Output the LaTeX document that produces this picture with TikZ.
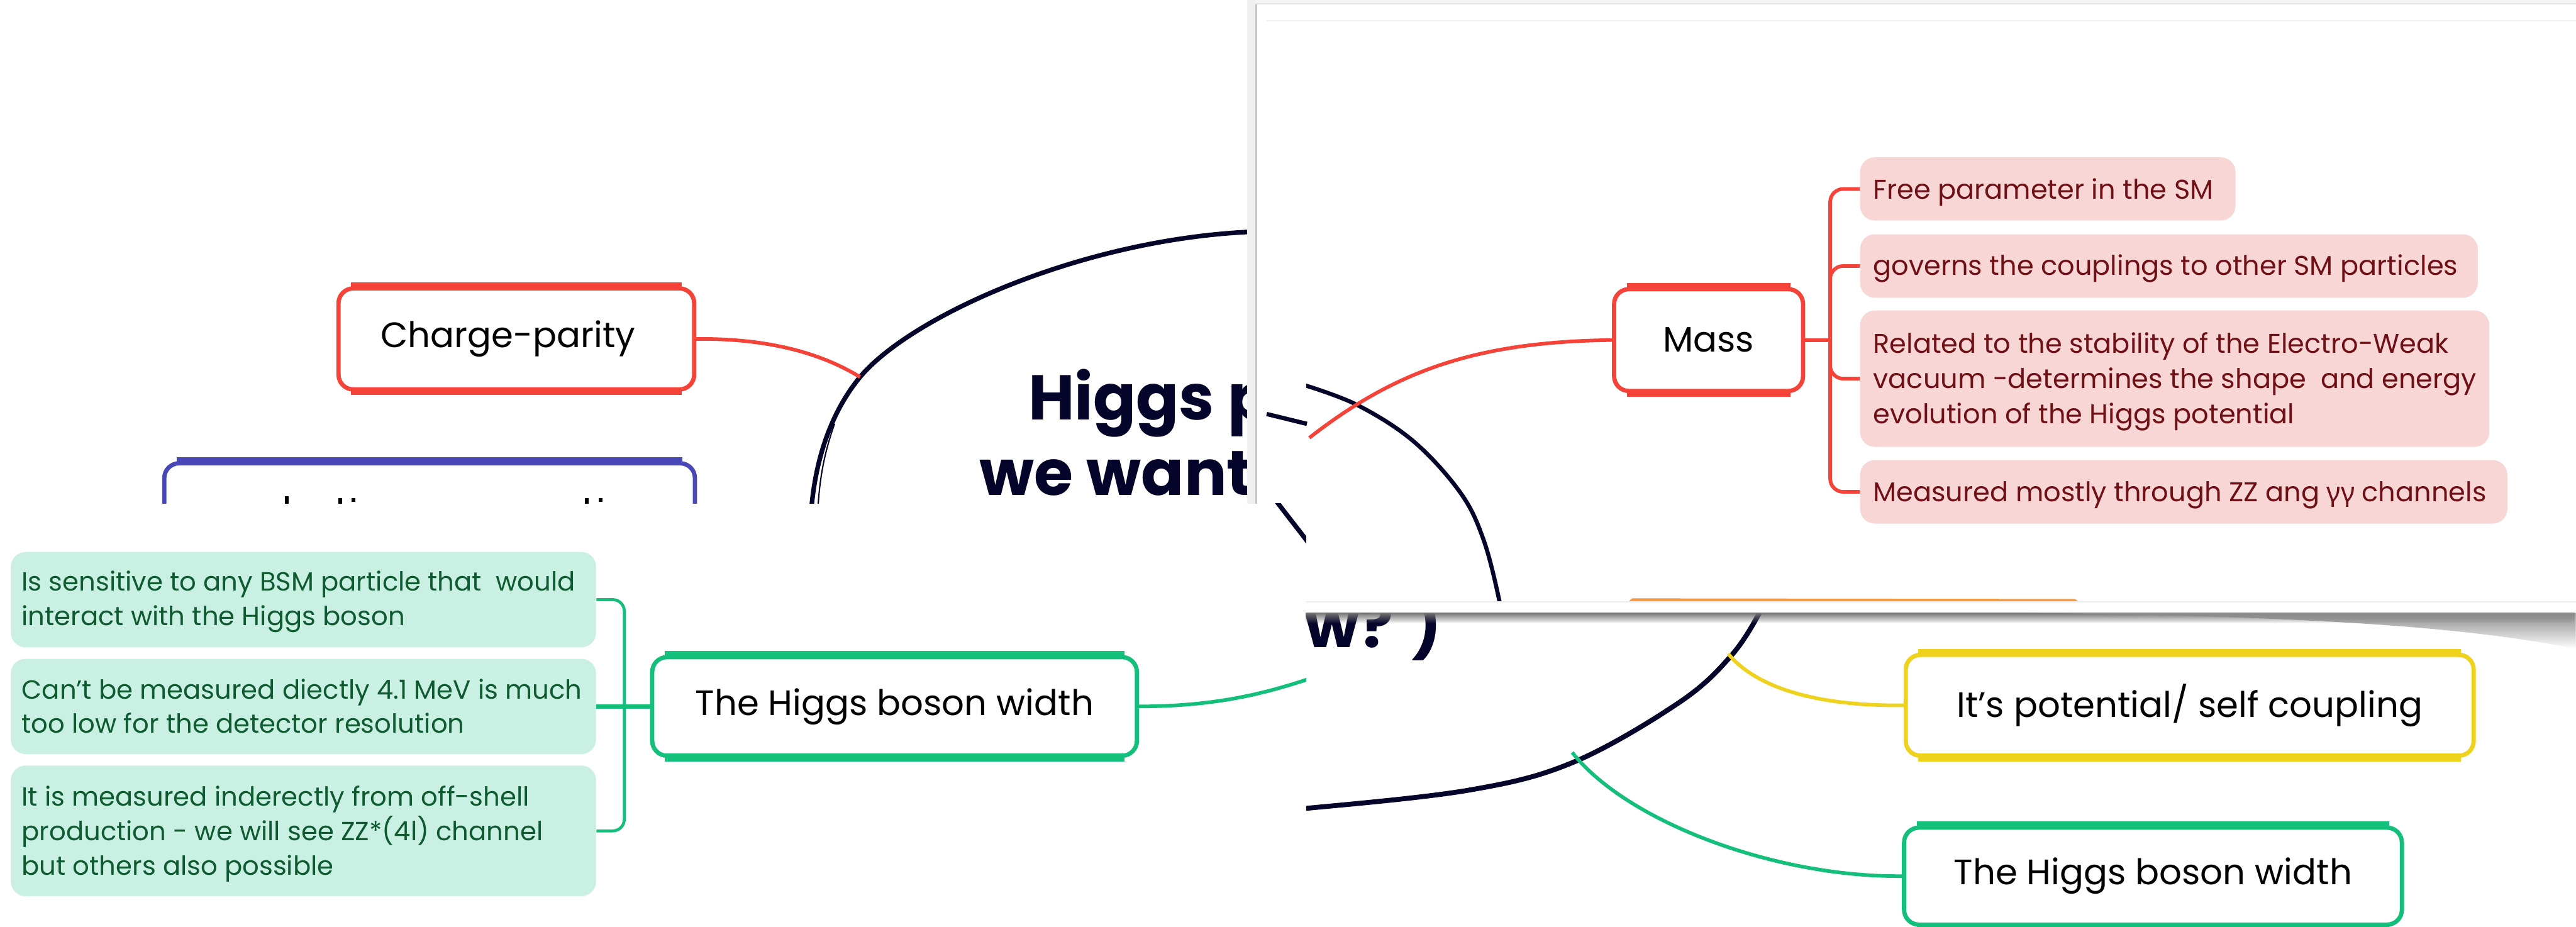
\documentclass[tikz,border=0pt]{standalone}
\usepackage{fontspec}
\setmainfont{Poppins}
\newfontfamily\grkfont{Noto Sans}
\usetikzlibrary{fadings}
\definecolor{navy}{HTML}{05052B}
\definecolor{cred}{HTML}{F5433A}
\definecolor{pinkfill}{HTML}{F9D6D6}
\definecolor{pinktext}{HTML}{6E1016}
\definecolor{cgreen}{HTML}{14BF7C}
\definecolor{mintfill}{HTML}{C9F0E3}
\definecolor{minttext}{HTML}{0F5A31}
\definecolor{cyellow}{HTML}{EFD21E}
\definecolor{corange}{HTML}{F29B45}
\definecolor{cblue}{HTML}{4A48B8}
\tikzfading[name=shadowfade, top color=transparent!0, bottom color=transparent!100]
\tikzset{
  topic/.style={draw, line width=2.6pt, rounded corners=9pt, fill=white, inner sep=0pt, text=black, font=\fontsize{21.5}{26}\selectfont},
  pinkbox/.style={fill=pinkfill, rounded corners=9pt, inner sep=0pt, anchor=west},
  mintbox/.style={fill=mintfill, rounded corners=9pt, inner sep=0pt, anchor=west},
  ptext/.style={text=pinktext, font=\fontsize{16.5}{21.5}\selectfont, align=left, anchor=base west, inner sep=0pt},
  mtext/.style={text=minttext, font=\fontsize{16}{20.9}\selectfont, align=left, anchor=base west, inner sep=0pt},
  link/.style={line width=2.2pt},
  navyline/.style={navy, line width=2.8pt},
  title/.style={text=navy, font=\fontsize{38.5}{46}\selectfont\bfseries, inner sep=0pt, anchor=base west},
}
\newcommand{\myedges}[2]{%
  \draw[#2, line width=4.8pt] ([xshift=9pt]#1.north west) -- ([xshift=-9pt]#1.north east);
  \draw[#2, line width=4.2pt] ([xshift=9pt]#1.south west) -- ([xshift=-9pt]#1.south east);}
\begin{document}
\begin{tikzpicture}[x=1pt,y=-1pt]
\useasboundingbox (0,0) rectangle (1568,564);
\clip (0,0) rectangle (1568,564);
\fill[white] (0,0) rectangle (1568,564);

% ---------- layer A (base) ----------
\node[topic, draw=cred, minimum width=216.5pt, minimum height=61.5pt] (cp) at (314.3,206.3) {Charge-parity\hspace*{10pt}};
\myedges{cp}{cred}
\node[topic, draw=cblue, minimum width=323pt, minimum height=70pt] (bl) at (261.5,317) {};
\myedges{bl}{cblue}
\fill[black] (173.5,302) rectangle (175.6,307);
\fill[black] (206,303) rectangle (208.2,307);
\fill[black] (214,303) rectangle (216.2,305.6);
\fill[black] (356,303) rectangle (358.2,307);
\fill[black] (364.5,303) rectangle (366.7,305.6);
\coordinate (ellA) at (523.5,229.5);
\draw[navyline] (492,345) -- (493,330) .. controls (493,285) and (505,252) .. (523.5,229.5)
   .. controls (555,192) and (660,145) .. (764,141) -- (820,139);
\draw[navy, line width=0.8pt] (497.5,320) .. controls (498,292) and (502,275) .. (508,258);
\draw[cred, link] (cp.east) .. controls (460,206) and (495,212) .. (ellA);
\node[title] (t1) at (625.7,255.7) {Higgs p};
\node[title] (t2) at (596,301.4) {we want};

% ---------- layer B (top right) ----------
\fill[gray!12] (759,0) rectangle (764,306.5);
\fill[gray!8] (764,0) rectangle (1568,2);
\fill[white] (764,2) rectangle (1568,373);
\draw[gray!45, line width=1.3pt] (764.6,2) -- (764.6,306.5);
\draw[gray!22, line width=0.8pt] (764,2.4) -- (1568,2.4);
\draw[gray!10, line width=0.6pt] (771,12.7) -- (1568,12.7);
\begin{scope}
  \clip (764,2) rectangle (1568,366);
  \draw[navy, line width=2.6pt] (771,252) -- (795.5,258);
  \node[topic, draw=cred, minimum width=115pt, minimum height=62pt] (mass) at (1040,207) {Mass};
  \myedges{mass}{cred}
  \coordinate (rB) at (797,266.5);
  \begin{scope}
    \clip (795,0) rectangle (1568,366);
    \draw[navy, line width=2.5pt] plot[smooth, tension=0.6] coordinates {(794.5,234.6) (826.5,246.7) (860.6,268.8) (889,300) (903,328.5) (912.6,365.5) (914,380)};
    \draw[cred, link] (rB) .. controls (850,225) and (900,208) .. (mass.west);
  \end{scope}
  \node[pinkbox, minimum width=228.5pt, minimum height=38.5pt] (p1) at (1132,115) {};
  \node[pinkbox, minimum width=376pt, minimum height=38.6pt] (p2) at (1132,161.9) {};
  \node[pinkbox, minimum width=383pt, minimum height=83pt] (p3) at (1132,230.5) {};
  \node[pinkbox, minimum width=394pt, minimum height=38.7pt] (p4) at (1132,299.4) {};
  \node[ptext] (p1t) at (1140,121) {Free parameter in the SM};
  \node[ptext] (p2t) at (1140,167.3) {governs the couplings to other SM particles};
  \node[ptext] (p3t) at (1140,258) {Related to the stability of the Electro-Weak\\vacuum -determines the shape~ and energy\\evolution of the Higgs potential};
  \node[ptext] (p4t) at (1140,305.3) {Measured mostly through ZZ ang {\grkfont γγ} channels};
  \draw[cred, link] (mass.east) -- (1114,207);
  \draw[cred, link, rounded corners=8pt] (p1.west) -- (1114,115) -- (1114,299.4) -- (p4.west);
  \draw[cred, link, rounded corners=8pt] (p2.west) -- (1114,161.9) -- (1114,185);
  \draw[cred, link, rounded corners=8pt] (p3.west) -- (1114,230.5) -- (1114,210);
  \fill[corange] (991,366.5) -- (993.5,364.2) -- (1263,364.6) -- (1265.5,366.5) -- cycle;
\end{scope}
\draw[gray!15, line width=0.6pt] (794,366.3) -- (1568,366.3);

% ---------- layer C (bottom left) ----------
\fill[white] (0,306.5) rectangle (795,564);
\begin{scope}
  \clip (0,306.5) rectangle (795,564);
  \draw[navyline] plot[smooth] coordinates {(770,295) (778,306.5) (795,328.5) (802,338)};
  \node[mintbox, minimum width=356.2pt, minimum height=58pt] (m1) at (6.4,365) {};
  \node[mintbox, minimum width=356.2pt, minimum height=58pt] (m2) at (6.4,430) {};
  \node[mintbox, minimum width=356.2pt, minimum height=79.5pt] (m3) at (6.4,505.75) {};
  \node[mtext] (m1t) at (13,380.6) {Is sensitive to any BSM particle that~ would\\interact with the Higgs boson};
  \node[mtext] (m2t) at (13,446.3) {Can’t be measured diectly 4.1 MeV is much\\too low for the detector resolution};
  \node[mtext] (m3t) at (13,532.5) {It is measured inderectly from off-shell\\production - we will see ZZ*(4l) channel\\but others also possible};
  \node[topic, draw=cgreen, minimum width=295pt, minimum height=60pt] (wC) at (544.5,430) {The Higgs boson width};
  \myedges{wC}{cgreen}
  \coordinate (gC) at (796,413.5);
  \draw[cgreen, line width=1.8pt, rounded corners=7pt] (m1.east) -- (380,365) -- (380,505.75) -- (m3.east);
  \draw[cgreen, line width=2.6pt] (m2.east) -- (wC.west);
  \draw[cgreen, link] (wC.east) .. controls (740,430) and (770,422) .. (gC);
\end{scope}

% ---------- layer D (bottom right) ----------
\fill[white] (795,373) rectangle (1568,564);
\begin{scope}
  \clip (795,373) rectangle (1568,564);
  \node[title] (t3) at (794,394) {w? )};
  \draw[navy, line width=3pt] plot[smooth, tension=0.6] coordinates {(1078,355) (1071,373) (1053,400) (1021.5,428) (957.6,464) (893.8,481) (795.5,492) (770,493)};
  \node[topic, draw=cyellow, minimum width=345.7pt, minimum height=61.4pt] (pot) at (1332.85,429.3) {It’s potential/ self coupling};
  \myedges{pot}{cyellow}
  \node[topic, draw=cgreen, minimum width=303pt, minimum height=59pt] (wD) at (1310.5,533.3) {The Higgs boson width};
  \myedges{wD}{cgreen}
  \coordinate (yE) at (1052,398);
  \coordinate (gE) at (957,458);
  \draw[cyellow, link] (pot.west) .. controls (1110,430) and (1070,420) .. (yE);
  \draw[cgreen, link] (wD.west) .. controls (1080,534) and (990,500) .. (gE);
\end{scope}

% ---------- shadow of layer B onto layer D ----------
\fill[black!55, path fading=shadowfade] (795,373) rectangle (1568,379.5);
\fill[black!45, path fading=shadowfade] (1230,373) .. controls (1400,375) and (1500,381) .. (1568,395) -- (1568,373) -- cycle;
\end{tikzpicture}
\end{document}
